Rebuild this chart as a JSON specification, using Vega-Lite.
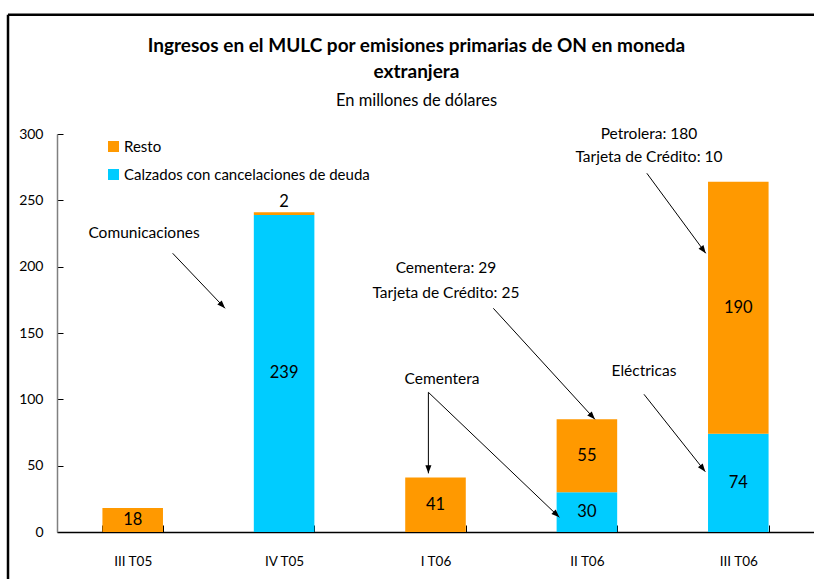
{
  "$schema": "https://vega.github.io/schema/vega-lite/v6.json",
  "width": 757,
  "height": 398,
  "autosize": {"type": "none"},
  "padding": {"left": 57, "top": 134, "right": 0, "bottom": 47},
  "background": "white",
  "config": {
    "font": "Lato",
    "view": {"stroke": null},
    "axis": {"grid": false},
    "axisY": {
      "tickCount": 6,
      "labelFont": "Lato",
      "labelFontSize": 14,
      "labelColor": "black",
      "domainColor": "#808080",
      "domainWidth": 1.5,
      "tickColor": "black",
      "tickSize": -6,
      "labelPadding": 20
    }
  },
  "title": {
    "text": ["Ingresos en el MULC por emisiones primarias de ON en moneda", "extranjera"],
    "subtitle": "En millones de dólares",
    "anchor": "middle",
    "frame": "group",
    "dx": -19,
    "font": "Lato",
    "fontSize": 19,
    "fontWeight": "bold",
    "color": "black",
    "lineHeight": 26,
    "subtitleFont": "Lato",
    "subtitleFontSize": 16.5,
    "subtitleColor": "black",
    "subtitlePadding": 11,
    "offset": -96
  },
  "layer": [
    {
      "data": {"values": [
        {"period": "III T05", "series": "Resto", "value": 18},
        {"period": "IV T05", "series": "Calzados con cancelaciones de deuda", "value": 239},
        {"period": "IV T05", "series": "Resto", "value": 2},
        {"period": "I T06", "series": "Resto", "value": 41},
        {"period": "II T06", "series": "Calzados con cancelaciones de deuda", "value": 30},
        {"period": "II T06", "series": "Resto", "value": 55},
        {"period": "III T06", "series": "Calzados con cancelaciones de deuda", "value": 74},
        {"period": "III T06", "series": "Resto", "value": 190}
      ]},
      "transform": [
        {"stack": "value", "groupby": ["period"], "sort": [{"field": "series", "order": "ascending"}], "as": ["v0", "v1"]},
        {"calculate": "(datum.v0 + datum.v1) / 2", "as": "mid"}
      ],
      "encoding": {
        "x": {
          "field": "period",
          "type": "nominal",
          "sort": ["III T05", "IV T05", "I T06", "II T06", "III T06"],
          "scale": {"paddingInner": 0.6, "paddingOuter": 0.3},
          "axis": {
            "title": null,
            "labelAngle": 0,
            "labelFont": "Lato",
            "labelFontSize": 13.5,
            "labelColor": "black",
            "domainColor": "black",
            "domainWidth": 1.5,
            "tickBand": "extent",
            "tickSize": -7,
            "tickColor": "black",
            "tickWidth": 1,
            "labelPadding": 29
          }
        }
      },
      "layer": [
        {
          "mark": {"type": "bar"},
          "encoding": {
            "y": {
              "field": "v1",
              "type": "quantitative",
              "title": null,
              "scale": {"domain": [0, 300], "nice": false, "zero": false}
            },
            "y2": {"field": "v0"},
            "color": {
              "field": "series",
              "type": "nominal",
              "scale": {"domain": ["Resto", "Calzados con cancelaciones de deuda"], "range": ["#FF9900", "#00CCFF"]},
              "legend": {
                "orient": "none",
                "legendX": 49,
                "legendY": 5,
                "title": null,
                "symbolType": "square",
                "symbolSize": 121,
                "symbolStrokeWidth": 0,
                "labelFont": "Lato",
                "labelFontSize": 15,
                "labelColor": "black",
                "labelOffset": 3,
                "labelLimit": 400,
                "rowPadding": 12
              }
            }
          }
        },
        {
          "transform": [{"filter": "datum.value >= 5"}],
          "mark": {"type": "text", "font": "Lato", "fontSize": 16.5, "baseline": "middle", "color": "black"},
          "encoding": {
            "y": {"field": "mid", "type": "quantitative", "title": null, "scale": {"domain": [0, 300], "nice": false, "zero": false}},
            "text": {"field": "value", "type": "quantitative"}
          }
        },
        {
          "transform": [{"filter": "datum.value < 5"}],
          "mark": {"type": "text", "font": "Lato", "fontSize": 16.5, "baseline": "bottom", "dy": -2, "color": "black"},
          "encoding": {
            "y": {"field": "v1", "type": "quantitative", "title": null, "scale": {"domain": [0, 300], "nice": false, "zero": false}},
            "text": {"field": "value", "type": "quantitative"}
          }
        }
      ]
    },
    {
      "layer": [
        {
          "data": {"values": [
            {"label": "Comunicaciones", "x": 0.075, "y": 225.4},
            {"label": "Cementera: 29", "x": 2.069, "y": 199.0},
            {"label": "Tarjeta de Crédito: 25", "x": 2.069, "y": 180.2},
            {"label": "Cementera", "x": 2.043, "y": 115.3},
            {"label": "Eléctricas", "x": 3.377, "y": 121.4},
            {"label": "Petrolera: 180", "x": 3.41, "y": 300.0},
            {"label": "Tarjeta de Crédito: 10", "x": 3.41, "y": 282.7}
          ]},
          "mark": {"type": "text", "font": "Lato", "fontSize": 15.5, "baseline": "middle", "align": "center", "color": "black"},
          "encoding": {
            "x": {"field": "x", "type": "quantitative", "scale": {"domain": [-0.5, 4.5], "nice": false, "zero": false}, "axis": null},
            "y": {"field": "y", "type": "quantitative", "title": null, "scale": {"domain": [0, 300], "nice": false, "zero": false}},
            "text": {"field": "label", "type": "nominal"}
          }
        },
        {
          "data": {"values": [
            {"x": 0.264, "y": 210.1, "x2": 0.61, "y2": 168.6},
            {"x": 2.382, "y": 168.6, "x2": 3.053, "y2": 84.9},
            {"x": 1.953, "y": 105.3, "x2": 1.953, "y2": 44.2},
            {"x": 1.953, "y": 105.3, "x2": 2.818, "y2": 11.1},
            {"x": 3.377, "y": 103.8, "x2": 3.782, "y2": 45.5},
            {"x": 3.396, "y": 270.4, "x2": 3.785, "y2": 210.1}
          ]},
          "mark": {"type": "rule", "color": "black", "strokeWidth": 1},
          "encoding": {
            "x": {"field": "x", "type": "quantitative", "scale": {"domain": [-0.5, 4.5], "nice": false, "zero": false}, "axis": null},
            "y": {"field": "y", "type": "quantitative", "title": null, "scale": {"domain": [0, 300], "nice": false, "zero": false}},
            "x2": {"field": "x2"},
            "y2": {"field": "y2"}
          }
        },
        {
          "data": {"values": [
            {"x": 0.264, "y": 210.1, "x2": 0.61, "y2": 168.6},
            {"x": 2.382, "y": 168.6, "x2": 3.053, "y2": 84.9},
            {"x": 1.953, "y": 105.3, "x2": 1.953, "y2": 44.2},
            {"x": 1.953, "y": 105.3, "x2": 2.818, "y2": 11.1},
            {"x": 3.377, "y": 103.8, "x2": 3.782, "y2": 45.5},
            {"x": 3.396, "y": 270.4, "x2": 3.785, "y2": 210.1}
          ]},
          "transform": [
            {"calculate": "atan2((datum.x2 - datum.x) * 151.4, (datum.y2 - datum.y) * 1.32667) * 180 / PI", "as": "angle"}
          ],
          "mark": {"type": "point", "shape": "M0,0 L-0.38,1 L0.38,1 Z", "filled": true, "color": "black", "opacity": 1, "size": 256, "strokeWidth": 0},
          "encoding": {
            "x": {"field": "x2", "type": "quantitative", "scale": {"domain": [-0.5, 4.5], "nice": false, "zero": false}, "axis": null},
            "y": {"field": "y2", "type": "quantitative", "title": null, "scale": {"domain": [0, 300], "nice": false, "zero": false}},
            "angle": {"field": "angle", "type": "quantitative", "scale": null}
          }
        },
        {
          "data": {"values": [
            {"x": -0.8236, "y": -50, "x2": -0.8236, "y2": 389.9},
            {"x": -0.8236, "y": 389.9, "x2": 5.2, "y2": 389.9}
          ]},
          "mark": {"type": "rule", "color": "black", "strokeWidth": 2.5},
          "encoding": {
            "x": {"field": "x", "type": "quantitative", "scale": {"domain": [-0.5, 4.5], "nice": false, "zero": false}, "axis": null},
            "y": {"field": "y", "type": "quantitative", "title": null, "scale": {"domain": [0, 300], "nice": false, "zero": false}},
            "x2": {"field": "x2"},
            "y2": {"field": "y2"}
          }
        }
      ]
    }
  ],
  "resolve": {"scale": {"x": "independent"}}
}
